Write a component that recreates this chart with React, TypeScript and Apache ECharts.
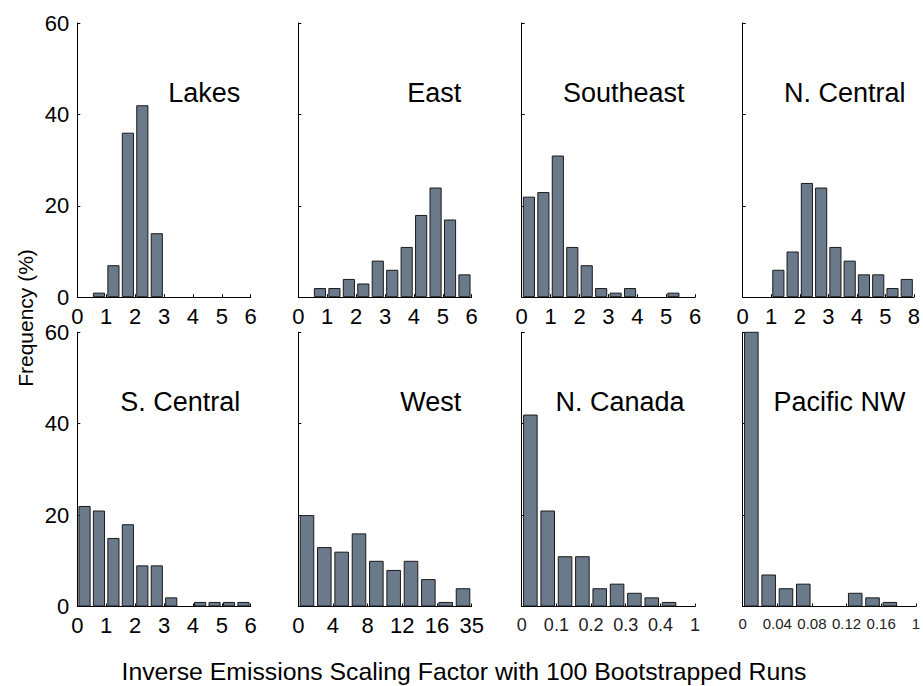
import React, { useEffect, useRef } from "react";
import * as echarts from "echarts";

// ---- data ----
const panelNames = ["Lakes", "East", "Southeast", "N. Central", "S. Central", "West", "N. Canada", "Pacific NW"];

const lakesFreq = [0, 1, 7, 36, 42, 14, 0, 0, 0, 0, 0, 0];
const eastFreq = [0, 2, 2, 4, 3, 8, 6, 11, 18, 24, 17, 5];
const southeastFreq = [22, 23, 31, 11, 7, 2, 1, 2, 0, 0, 1, 0];
const nCentralFreq = [0, 0, 6, 10, 25, 24, 11, 8, 5, 5, 2, 4];
const sCentralFreq = [22, 21, 15, 18, 9, 9, 2, 0, 1, 1, 1, 1];
const westFreq = [20, 13, 12, 16, 10, 8, 10, 6, 1, 4];
const nCanadaFreq = [42, 21, 11, 11, 4, 5, 3, 2, 1, 0];
const pacificNWFreq = [78, 7, 4, 5, 0, 0, 3, 2, 1, 0];

const panelFreqs = [lakesFreq, eastFreq, southeastFreq, nCentralFreq, sCentralFreq, westFreq, nCanadaFreq, pacificNWFreq];

const binWidths = [0.5, 0.5, 0.5, 0.5, 0.5, 2, 0.05, 0.02];
const xMaxes = [6, 6, 6, 6, 6, 20, 0.5, 0.2];
const xIntervals = [1, 1, 1, 1, 1, 4, 0.1, 0.04];

const zeroToSixTicks = ["0", "1", "2", "3", "4", "5", "6"];
const nCentralTicks = ["0", "1", "2", "3", "4", "5", "8"];
const westTicks = ["0", "4", "8", "12", "16", "35"];
const nCanadaTicks = ["0", "0.1", "0.2", "0.3", "0.4", "1"];
const pacificNWTicks = ["0", "0.04", "0.08", "0.12", "0.16", "1"];
const panelTicks = [zeroToSixTicks, zeroToSixTicks, zeroToSixTicks, nCentralTicks, zeroToSixTicks, westTicks, nCanadaTicks, pacificNWTicks];

const yTicks = [0, 20, 40, 60];

const xTitle = "Inverse Emissions Scaling Factor with 100 Bootstrapped Runs";
const yTitle = "Frequency (%)";

// ---- layout / style ----
const W = 923;
const H = 686;
const colLefts = [77.3, 298.3, 521.7, 742.7];
const rowTops = [23, 332.3];
const plotW = 173.4;
const plotH = 274.2;
const FONT = "'Liberation Sans', Arial, Helvetica, sans-serif";
const tickFontSizes = [22, 22, 22, 22, 22, 22, 18, 15];
const barFill = "#6b7a8b";

export default function App() {
  const ref = useRef<HTMLDivElement>(null);

  useEffect(() => {
    if (!ref.current) return;
    const chart = echarts.init(ref.current, undefined, { renderer: "svg" });

    const grid: any[] = [];
    const xAxis: any[] = [];
    const yAxis: any[] = [];
    const series: any[] = [];
    const graphic: any[] = [];

    panelNames.forEach((name, i) => {
      const col = i % 4;
      const row = Math.floor(i / 4);
      const left = colLefts[col];
      const top = rowTops[row];
      grid.push({ left, top, width: plotW, height: plotH, containLabel: false });

      const interval = xIntervals[i];
      const ticks = panelTicks[i];
      xAxis.push({
        type: "value",
        gridIndex: i,
        min: 0,
        max: xMaxes[i],
        interval,
        splitLine: { show: false },
        axisLine: { show: true, onZero: false, lineStyle: { color: "#000", width: 1 } },
        axisTick: { show: true, inside: true, length: 3, lineStyle: { color: "#000" } },
        axisLabel: {
          show: true,
          margin: i >= 6 ? 9 : 8,
          fontSize: tickFontSizes[i],
          fontFamily: FONT,
          color: i >= 6 ? "#222" : "#000",
          showMinLabel: true,
          showMaxLabel: true,
          hideOverlap: false,
          formatter: (v: number) => {
            const k = Math.round(v / interval);
            return ticks[k] ?? "";
          },
        },
      });

      yAxis.push({
        type: "value",
        gridIndex: i,
        min: 0,
        max: 60,
        interval: 20,
        splitLine: { show: false },
        axisLine: { show: true, lineStyle: { color: "#000", width: 1 } },
        axisTick: { show: true, inside: true, length: 3, lineStyle: { color: "#000" } },
        axisLabel: {
          show: col === 0,
          margin: 8,
          fontSize: 22,
          fontFamily: FONT,
          color: "#000",
          formatter: (v: number) => (yTicks.includes(v) ? String(v) : ""),
        },
      });

      const bw = binWidths[i];
      const nBins = panelFreqs[i].length;
      const pitch = plotW / nBins;
      series.push({
        type: "bar",
        xAxisIndex: i,
        yAxisIndex: i,
        barWidth: pitch * 0.84,
        clip: true,
        itemStyle: { color: barFill, borderColor: "#1a1a1a", borderWidth: 1 },
        data: panelFreqs[i].map((f, k) => [(k + 0.5) * bw, f === 0 ? "-" : f]),
      });

      graphic.push({
        type: "text",
        x: left + plotW - 10.5,
        y: top + 70,
        style: {
          text: name,
          fontSize: 27,
          fontFamily: FONT,
          fill: "#000",
          align: "right",
          verticalAlign: "middle",
        },
      });
    });

    graphic.push({
      type: "text",
      x: 464,
      y: 671,
      style: {
        text: xTitle,
        fontSize: 24.8,
        fontFamily: FONT,
        fill: "#000",
        align: "center",
        verticalAlign: "middle",
      },
    });
    graphic.push({
      type: "text",
      x: 25,
      y: 318,
      rotation: Math.PI / 2,
      style: {
        text: yTitle,
        fontSize: 21,
        fontFamily: FONT,
        fill: "#000",
        align: "center",
        verticalAlign: "middle",
      },
    });

    chart.setOption({
      animation: false,
      backgroundColor: "#fff",
      grid,
      xAxis,
      yAxis,
      series,
      graphic,
    });

    return () => chart.dispose();
  }, []);

  return (
    <div
      ref={ref}
      style={{ position: "fixed", left: 0, top: 0, width: W, height: H, background: "#fff" }}
    />
  );
}
